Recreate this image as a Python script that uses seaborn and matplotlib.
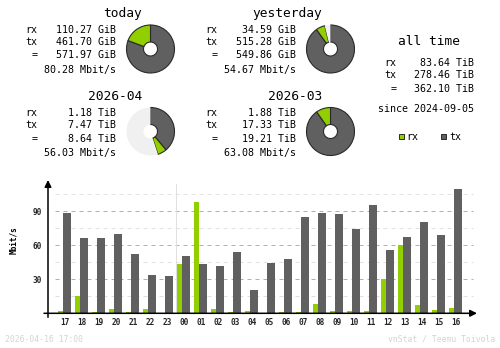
import matplotlib
matplotlib.use("Agg")
import matplotlib.pyplot as plt
import seaborn as sns
from matplotlib.patches import Rectangle

# ---------------- data ----------------
hours = ['17', '18', '19', '20', '21', '22', '23', '00', '01', '02', '03', '04',
         '05', '06', '07', '08', '09', '10', '11', '12', '13', '14', '15', '16']
rx_mbit = [2.0, 15.3, 1.2, 3.8, 1.2, 3.8, 0.0, 43.5, 98.2, 3.8, 1.2, 2.0,
           0.0, 1.2, 1.2, 8.2, 2.0, 2.0, 2.0, 30.3, 60.0, 7.4, 2.9, 4.7]
tx_mbit = [88.8, 66.5, 66.5, 70.0, 52.4, 33.8, 32.9, 50.6, 43.5, 41.8, 54.1, 20.6,
           44.4, 47.9, 85.0, 88.5, 87.6, 74.4, 95.6, 55.9, 67.4, 80.6, 69.1, 109.7]
y_ticks = [30, 60, 90]
y_minor = [15, 45, 75, 105]

period_titles = ['today', 'yesterday', '2026-04', '2026-03']
period_rx = [110.27, 34.59, 1.18, 1.88]
period_tx = [461.70, 515.28, 7.47, 17.33]
period_total = [571.97, 549.86, 8.64, 19.21]
period_unit = ['GiB', 'GiB', 'TiB', 'TiB']
period_rate = ['80.28', '54.67', '56.03', '63.08']

alltime_rx, alltime_tx, alltime_total = 83.64, 278.46, 362.10
alltime_since = '2024-09-05'
footer_left = '2026-04-16 17:00'
footer_right = 'vnStat / Teemu Toivola'

RX = '#92cf00'
TX = '#606060'
EDGE = '#2a2a2a'
UNUSED = '#f0f0f0'
MONO = 'DejaVu Sans Mono'

sns.set_style('white')
plt.rcParams['font.family'] = [MONO, 'DejaVu Sans']

W, H = 500, 348
fig = plt.figure(figsize=(W / 100, H / 100), dpi=100, facecolor='white')

# overlay axes in pixel coords for the text
ov = fig.add_axes([0, 0, 1, 1])
ov.set_xlim(0, W)
ov.set_ylim(H, 0)
ov.axis('off')
ov.patch.set_visible(False)

def txt(x, y, s, size=7.2, ha='left', va='baseline', color='black', **kw):
    ov.text(x, y, s, fontsize=size, ha=ha, va=va, color=color, family=MONO, **kw)

# ---------------- summary blocks ----------------
offsets = [(0, 0), (180, 0), (0, 83.3), (180, 83.3)]
for i, (dx, dy) in enumerate(offsets):
    txt(dx + 142, dy + 16.5, period_titles[i], size=9.3, ha='right')
    u = period_unit[i]
    rows = [('rx', f'{period_rx[i]:.2f} {u}', 32.7),
            ('tx', f'{period_tx[i]:.2f} {u}', 45.0),
            ('=', f'{period_total[i]:.2f} {u}', 58.3)]
    for lab, val, yb in rows:
        txt(dx + 37.5, dy + yb, lab, ha='right')
        txt(dx + 115.5, dy + yb, val, ha='right')
    txt(dx + 115.5, dy + 72.7, f'{period_rate[i]} Mbit/s', ha='right')

# pies
pair_max = [max(period_total[0], period_total[1])] * 2 + [max(period_total[2], period_total[3])] * 2
pie_centers = [(150.5, 49), (330.5, 49), (150.5, 131.5), (330.5, 131.5)]
for i, (cx, cy) in enumerate(pie_centers):
    pa = fig.add_axes([(cx - 25) / W, (H - cy - 25) / H, 50 / W, 50 / H])
    pa.patch.set_visible(False)
    vals = [period_tx[i], period_rx[i], max(pair_max[i] - period_total[i], 0)]
    wedges, _ = pa.pie(vals, colors=[TX, RX, UNUSED], startangle=90, counterclock=False,
                       radius=1.0,
                       wedgeprops=dict(width=17 / 24, edgecolor=EDGE, linewidth=0.8))
    wedges[2].set_edgecolor('none')
    pa.set_xlim(-25 / 24, 25 / 24)
    pa.set_ylim(-25 / 24, 25 / 24)

# all time
txt(429.5, 45, 'all time', size=9.3, ha='center')
for lab, v, yb in [('rx', alltime_rx, 66), ('tx', alltime_tx, 78), ('=', alltime_total, 92)]:
    txt(396.5, yb, lab, ha='right')
    txt(474.5, yb, f'{v:.2f} TiB', ha='right')
txt(474.5, 112, f'since {alltime_since}', ha='right')
ov.add_patch(Rectangle((399, 134), 5, 5, facecolor=RX, edgecolor=EDGE, lw=0.7))
txt(406, 136.8, 'rx', va='center')
ov.add_patch(Rectangle((441, 134), 5, 5, facecolor=TX, edgecolor=EDGE, lw=0.7))
txt(449, 136.8, 'tx', va='center')

# footer
txt(5, 342, footer_left, size=5.9, color='#d4d4d4')
txt(495, 342, footer_right, size=5.9, color='#d4d4d4', ha='right')

# ---------------- hourly bar chart ----------------
base_px, top_px, left_px, right_px = 313.3, 180.0, 48.0, 477.0
px_per_unit = 1.1333
ymax = (base_px - top_px) / px_per_unit
ax = fig.add_axes([left_px / W, (H - base_px) / H, (right_px - left_px) / W, (base_px - top_px) / H])
ax.patch.set_visible(False)

sns.barplot(x=hours, y=tx_mbit, order=hours, color=TX, width=8 / 17, saturation=1,
            errorbar=None, edgecolor='none', linewidth=0, ax=ax)
n_tx = len(ax.patches)
for p in ax.patches[:n_tx]:
    p.set_x(p.get_x() + 2 / 17)
    p.set_zorder(3)
sns.barplot(x=hours, y=rx_mbit, order=hours, color=RX, width=5 / 17, saturation=1,
            errorbar=None, edgecolor='none', linewidth=0, ax=ax)
for p in ax.patches[n_tx:]:
    p.set_x(p.get_x() - 4.5 / 17)
    p.set_zorder(3)

xl = (-1, -1 + (right_px - left_px) / 17)
ax.set_xlim(*xl)
ax.set_ylim(0, ymax)
for s in ax.spines.values():
    s.set_visible(False)

gx0 = (55 - left_px) / (right_px - left_px)
gx1 = (473 - left_px) / (right_px - left_px)
for v in y_minor:
    ax.axhline(v, xmin=gx0, xmax=gx1, color='#e0e0e0', lw=0.72, ls=(0, (4, 4)), zorder=1)
for v in y_ticks:
    ax.axhline(v, xmin=gx0, xmax=gx1, color='#b0b0b0', lw=0.72, ls=(0, (4, 4)), zorder=1)
ax.axvline(6.5, ymin=0, ymax=(base_px - 184) / (base_px - top_px), color='#e0e0e0', lw=0.72, zorder=1)

ax.set_yticks(y_ticks)
ax.set_yticklabels([str(v) for v in y_ticks])
ax.tick_params(axis='both', length=0, labelsize=5.6)
ax.tick_params(axis='y', pad=4.3)
ax.tick_params(axis='x', pad=3.4)
for lbl in ax.get_xticklabels() + ax.get_yticklabels():
    lbl.set_fontweight('bold')
    lbl.set_family(MONO)
ax.set_xlabel('')
ax.set_ylabel('')

arrow = dict(arrowstyle='-|>', mutation_scale=10, lw=1.1, color='black', shrinkA=0, shrinkB=0)
ax.annotate('', xy=(-1, ymax), xytext=(-1, -4 / px_per_unit), arrowprops=arrow,
            annotation_clip=False)
ax.annotate('', xy=(xl[1], 0), xytext=(-1 - 4 / 17, 0), arrowprops=arrow,
            annotation_clip=False)

txt(14, 240, 'Mbit/s', size=5.6, ha='center', va='center', rotation=90, fontweight='bold')

fig.savefig('out.png', dpi=100, facecolor='white')
